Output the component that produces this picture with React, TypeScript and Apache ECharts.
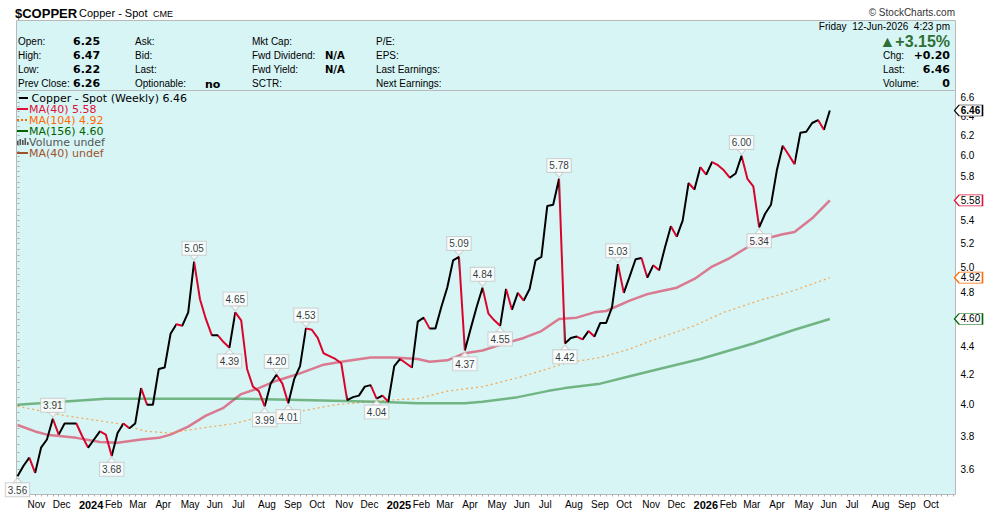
import { useEffect, useRef } from "react";
import * as echarts from "echarts";

// ---- time base: weekly bars (Friday closes); x is measured in weeks ----
const DAY = 86400000;
const WEEK = 7 * DAY;
const FIRST_FRIDAY = Date.UTC(2023, 9, 20);
const weeksSinceStart = (t: number) => (t - FIRST_FRIDAY) / WEEK;
const dateOfWeek = (w: number) => new Date(FIRST_FRIDAY + w * WEEK);
const X_MIN = -0.17;
const X_MAX = 159.35;

// ---- Copper - Spot, weekly closes ----
const weeklyClose = [
  3.56, 3.62, 3.67, 3.58, 3.73, 3.78, 3.91, 3.81, 3.88, 3.88,
  3.88, 3.8, 3.73, 3.78, 3.83, 3.81, 3.68, 3.82, 3.88, 3.85,
  3.88, 4.11, 4.0, 4.0, 4.24, 4.25, 4.49, 4.56, 4.55, 4.65,
  5.05, 4.75, 4.6, 4.48, 4.48, 4.43, 4.39, 4.65, 4.59, 4.24,
  4.12, 4.09, 3.99, 4.14, 4.2, 4.14, 4.01, 4.17, 4.26, 4.53,
  4.52, 4.46, 4.35, 4.33, 4.31, 4.28, 4.03, 4.05, 4.06, 4.12,
  4.13, 4.04, 4.06, 4.02, 4.26, 4.31, 4.28, 4.25, 4.58, 4.61,
  4.53, 4.53, 4.69, 4.84, 5.06, 5.09, 4.37, 4.53, 4.69, 4.84,
  4.64, 4.59, 4.55, 4.83, 4.67, 4.8, 4.74, 4.83, 5.06, 5.09,
  5.53, 5.54, 5.78, 4.42, 4.46, 4.47, 4.45, 4.51, 4.47, 4.57,
  4.57, 4.69, 5.03, 4.8, 4.93, 5.07, 5.08, 4.92, 5.02, 4.98,
  5.17, 5.35, 5.26, 5.4, 5.74, 5.68, 5.89, 5.82, 5.94, 5.91,
  5.86, 5.79, 5.83, 6.0, 5.78, 5.71, 5.34, 5.46, 5.54, 5.86,
  6.1, 6.01, 5.92, 6.23, 6.24, 6.33, 6.36, 6.26, 6.46,
];

// ---- moving averages: [week index, value] ----
const ma40: [number, number][] = [
  [0, 3.87], [3, 3.83], [5, 3.81], [10, 3.79], [14, 3.765], [17, 3.76], [21, 3.78],
  [24, 3.79], [26, 3.81], [29, 3.86], [32, 3.93], [35, 3.98], [38, 4.07], [41, 4.11],
  [44, 4.16], [48, 4.21], [52, 4.27], [55, 4.29], [60, 4.32], [64, 4.32], [68, 4.31],
  [70, 4.29], [73, 4.3], [76, 4.35], [79, 4.37], [82, 4.41], [86, 4.46], [89, 4.51],
  [92, 4.6], [95, 4.61], [98, 4.65], [100, 4.66], [104, 4.74], [107, 4.79], [109, 4.81],
  [112, 4.84], [115, 4.91], [118, 5.01], [121, 5.08], [124, 5.17], [126, 5.23],
  [130, 5.28], [132, 5.3], [135, 5.42], [138, 5.58],
];
const ma104: [number, number][] = [
  [0, 3.99], [8, 3.93], [17, 3.88], [22, 3.83], [26, 3.82], [31, 3.85], [37, 3.88],
  [40, 3.91], [47, 3.95], [54, 4.0], [63, 4.03], [68, 4.04], [73, 4.09], [79, 4.12],
  [85, 4.18], [90, 4.24], [93, 4.28], [99, 4.32], [104, 4.38], [107, 4.43], [115, 4.55],
  [120, 4.65], [126, 4.74], [132, 4.82], [138, 4.92],
];
const ma156: [number, number][] = [
  [0, 4.0], [15, 4.04], [33, 4.04], [38, 4.04], [50, 4.03], [61, 4.02], [68, 4.01],
  [76, 4.01], [79, 4.02], [85, 4.05], [90, 4.09], [93, 4.11], [99, 4.14], [104, 4.19],
  [109, 4.24], [116, 4.31], [125, 4.42], [132, 4.52], [138, 4.6],
];

// swing highs / lows carrying a value tag
const peakWeeks = [6, 30, 37, 44, 49, 75, 79, 92, 102, 123];
const troughWeeks = [0, 16, 36, 42, 46, 61, 76, 82, 93, 126];

// axis labels (4.6 and 5.6 sit under the MA value tags)
const priceTicks = [3.6, 3.8, 4.0, 4.2, 4.4, 4.8, 5.0, 5.2, 5.4, 5.8, 6.0, 6.2, 6.4, 6.6];
const monthNames = ["Jan", "Feb", "Mar", "Apr", "May", "Jun", "Jul", "Aug", "Sep", "Oct", "Nov", "Dec"];

// quote panel
const quoteLeft: [string, string][] = [
  ["Open:", "6.25"],
  ["High:", "6.47"],
  ["Low:", "6.22"],
  ["Prev Close:", "6.26"],
];
const quoteStamp = "Friday  12-Jun-2026  4:23 pm";
const quoteChangePct = "+3.15%";
const quoteChange = "+0.20";
const quoteLast = "6.46";
const quoteVolume = "0";

// ---- styling ----
const PANEL_BG = "#d7f5f5";
const PANEL_BORDER = "#b9b9b9";
const UP_COLOR = "#000000";
const DOWN_COLOR = "#d9042b";
const MA40_COLOR = "#dc143c";
const MA104_COLOR = "#ff8c1a";
const MA156_COLOR = "#2e8b3a";
const SANS = '"Liberation Sans", Arial, sans-serif';
const WIDE = '"DejaVu Sans", Verdana, sans-serif';

function buildOption(): any {
  const last = weeklyClose.length - 1;
  const priceData = weeklyClose.map((v, i) => [i, v]);

  const pieces = weeklyClose.slice(0, -1).map((v, i) => {
    const piece: any = {
      lte: i + 1,
      color: weeklyClose[i + 1] < v ? DOWN_COLOR : UP_COLOR,
    };
    if (i === 0) piece.gte = i;
    else piece.gt = i;
    return piece;
  });

  const monthStarts: number[] = [];
  for (let k = 0; k < 36; k++) monthStarts.push(weeksSinceStart(Date.UTC(2023, 10 + k, 1)));
  const weekTicks: number[] = [];
  for (let i = 0; i < 160; i++) weekTicks.push(i);
  const priceMinorTicks: number[] = [];
  for (let v = 3.5; v <= 6.65; v += 0.05) priceMinorTicks.push(Math.round(v * 100) / 100);

  const valueTag = (value: number, border: string, bold: boolean) => ({
    silent: true,
    symbol: "path://M0,5L5,0L30,0L30,10L5,10Z",
    symbolSize: [28, 11],
    symbolOffset: [13, 0],
    itemStyle: { color: "#ffffff", borderColor: border, borderWidth: 1 },
    label: {
      show: true,
      position: "inside",
      offset: [2, 0],
      formatter: () => value.toFixed(2),
      fontFamily: SANS,
      fontSize: 10,
      fontWeight: bold ? "bold" : "normal",
      color: "#000",
    },
    data: [{ coord: [X_MAX, value], value }],
  });

  const swingLabel = {
    show: true,
    formatter: (p: any) => p.value[1].toFixed(2),
    fontFamily: SANS,
    fontSize: 10,
    color: "#000",
    backgroundColor: "#ffffff",
    borderColor: "#c8c8c8",
    borderWidth: 1,
    padding: [2, 2, 1, 2],
    distance: 0,
  };

  // ---- quote header & legend as graphics ----
  const g: any[] = [];
  const txt = (x: number, y: number, text: string, o: any = {}) =>
    g.push({
      type: "text",
      x,
      y,
      z: 100,
      silent: true,
      style: {
        text,
        fontFamily: o.family || SANS,
        fontSize: o.size || 10,
        fontWeight: o.weight || "normal",
        fill: o.color || "#000",
        align: o.align || "left",
        verticalAlign: "middle",
        lineHeight: o.lineHeight,
      },
    });

  g.push({
    type: "rect",
    z: 1,
    silent: true,
    shape: { x: 16.5, y: 20.5, width: 939, height: 70 },
    style: { fill: PANEL_BG, stroke: PANEL_BORDER, lineWidth: 1 },
  });
  txt(15, 13, "$COPPER", { size: 13, weight: "bold" });
  txt(79, 13, "Copper - Spot", { size: 11 });
  txt(153, 13.5, "CME", { size: 9 });
  txt(955, 12, "\u00a9 StockCharts.com", { size: 10, color: "#333", align: "right" });

  const rowY = [41.5, 55.5, 69.5, 83.5];
  quoteLeft.forEach(([k, v], r) => {
    txt(18, rowY[r], k);
    txt(73, rowY[r], v, { family: WIDE, size: 11, weight: "bold" });
  });
  ["Ask:", "Bid:", "Last:", "Optionable:"].forEach((k, r) => txt(135, rowY[r], k));
  txt(205, rowY[3] + 1, "no", { family: WIDE, size: 11, weight: "bold" });
  ["Mkt Cap:", "Fwd Dividend:", "Fwd Yield:", "SCTR:"].forEach((k, r) => txt(252, rowY[r], k));
  txt(325, rowY[1], "N/A", { family: WIDE, size: 10, weight: "bold" });
  txt(325, rowY[2], "N/A", { family: WIDE, size: 10, weight: "bold" });
  ["P/E:", "EPS:", "Last Earnings:", "Next Earnings:"].forEach((k, r) => txt(376, rowY[r], k));

  txt(950, 26, quoteStamp, { align: "right" });
  txt(950, 41, "\u25B2" + quoteChangePct, { size: 16, weight: "bold", color: "#2f6f35", align: "right" });
  txt(883, 55.5, "Chg:");
  txt(950, 55.5, quoteChange, { family: WIDE, size: 11, weight: "bold", align: "right" });
  txt(883, 69.5, "Last:");
  txt(950, 69.5, quoteLast, { family: WIDE, size: 11, weight: "bold", align: "right" });
  txt(883, 83.5, "Volume:");
  txt(950, 83.5, quoteVolume, { family: WIDE, size: 11, weight: "bold", align: "right" });

  // legend
  const legendY = [98, 109, 120, 131, 142, 153];
  const legendRows = [
    { text: `Copper - Spot (Weekly) ${weeklyClose[last].toFixed(2)}`, color: "#000", line: "#000", dash: false, x: 31.5, lx: 19 },
    { text: `MA(40) ${ma40[ma40.length - 1][1].toFixed(2)}`, color: "#e0103a", line: "#e0103a", dash: false, x: 29, lx: 17 },
    { text: `MA(104) ${ma104[ma104.length - 1][1].toFixed(2)}`, color: "#ff6a00", line: "#ff6a00", dash: true, x: 29, lx: 17 },
    { text: `MA(156) ${ma156[ma156.length - 1][1].toFixed(2)}`, color: "#006400", line: "#006400", dash: false, x: 29, lx: 17 },
    { text: "Volume undef", color: "#555", line: "", dash: false, x: 29, lx: 17 },
    { text: "MA(40) undef", color: "#a0522d", line: "#a0522d", dash: false, x: 29, lx: 17 },
  ];
  legendRows.forEach((row, r) => {
    const y = legendY[r];
    if (row.line) {
      g.push({
        type: "line",
        z: 100,
        silent: true,
        shape: { x1: row.lx, y1: y, x2: 28, y2: y },
        style: { stroke: row.line, lineWidth: 2, lineDash: row.dash ? [2, 2] : null },
      });
    } else {
      [[17, 4], [19.5, 6], [22, 5], [24.5, 7], [27, 3]].forEach(([bx, bh]) =>
        g.push({
          type: "rect",
          z: 100,
          silent: true,
          shape: { x: bx, y: y + 3 - bh, width: 1.6, height: bh },
          style: { fill: "#555" },
        })
      );
    }
    txt(row.x, y, row.text, { family: WIDE, size: 11, color: row.color, lineHeight: 10 });
  });

  return {
    animation: false,
    backgroundColor: "#ffffff",
    grid: {
      left: 16.5,
      top: 90.5,
      width: 939,
      height: 404,
      show: true,
      backgroundColor: PANEL_BG,
      borderColor: PANEL_BORDER,
      borderWidth: 1,
    },
    xAxis: {
      type: "value",
      min: X_MIN,
      max: X_MAX,
      axisLine: { show: false },
      splitLine: { show: false },
      axisTick: {
        show: true,
        customValues: weekTicks,
        length: 2,
        lineStyle: { color: "#a8a8a8", width: 1 },
      },
      axisLabel: {
        customValues: monthStarts,
        align: "left",
        margin: 5,
        fontFamily: SANS,
        fontSize: 10,
        color: "#000",
        formatter: (w: number) => {
          const d = dateOfWeek(w);
          const m = d.getUTCMonth();
          return m === 0 ? `{yr|${d.getUTCFullYear()}}` : monthNames[m];
        },
        rich: {
          yr: { fontFamily: SANS, fontSize: 11, fontWeight: "bold", color: "#000" },
        },
      },
    },
    yAxis: {
      type: "log",
      logBase: 10,
      position: "right",
      min: 3.456,
      max: 6.674,
      axisLine: { show: false },
      splitLine: { show: false },
      axisTick: {
        show: true,
        customValues: priceMinorTicks,
        length: 2,
        lineStyle: { color: "#a8a8a8" },
      },
      axisLabel: {
        customValues: priceTicks,
        margin: 5,
        fontFamily: SANS,
        fontSize: 10,
        color: "#000",
        formatter: (v: number) => v.toFixed(1),
      },
    },
    visualMap: {
      type: "piecewise",
      show: false,
      seriesIndex: 0,
      dimension: 0,
      pieces,
      outOfRange: { color: UP_COLOR },
    },
    graphic: g,
    series: [
      {
        name: "Copper - Spot (Weekly)",
        type: "line",
        data: priceData,
        showSymbol: false,
        symbol: "none",
        z: 4,
        lineStyle: { width: 2 },
        markPoint: valueTag(weeklyClose[last], "#000", true),
      },
      {
        name: "MA(40)",
        type: "line",
        data: ma40,
        showSymbol: false,
        symbol: "none",
        z: 3,
        lineStyle: { color: MA40_COLOR, width: 2.5, opacity: 0.55 },
        markPoint: valueTag(ma40[ma40.length - 1][1], MA40_COLOR, false),
      },
      {
        name: "MA(104)",
        type: "line",
        data: ma104,
        showSymbol: false,
        symbol: "none",
        z: 3,
        lineStyle: { color: MA104_COLOR, width: 1.2, type: [2, 3], opacity: 0.75 },
        markPoint: valueTag(ma104[ma104.length - 1][1], "#ff6a00", false),
      },
      {
        name: "MA(156)",
        type: "line",
        data: ma156,
        showSymbol: false,
        symbol: "none",
        z: 3,
        lineStyle: { color: MA156_COLOR, width: 2.5, opacity: 0.6 },
        markPoint: valueTag(ma156[ma156.length - 1][1], "#006400", false),
      },
      {
        name: "Swing highs",
        type: "scatter",
        z: 6,
        silent: true,
        data: peakWeeks.map((i) => [i, weeklyClose[i]]),
        symbol: "path://M0,0L10,0L5,6Z",
        symbolSize: [9, 5],
        symbolOffset: [0, -4],
        itemStyle: { color: "#ffffff", borderColor: "#c8c8c8", borderWidth: 1 },
        label: { ...swingLabel, position: "top" },
      },
      {
        name: "Swing lows",
        type: "scatter",
        z: 6,
        silent: true,
        data: troughWeeks.map((i) => [i, weeklyClose[i]]),
        symbol: "path://M5,0L10,6L0,6Z",
        symbolSize: [9, 5],
        symbolOffset: [0, 4],
        itemStyle: { color: "#ffffff", borderColor: "#c8c8c8", borderWidth: 1 },
        label: { ...swingLabel, position: "bottom" },
      },
    ],
  };
}

export default function App() {
  const ref = useRef<HTMLDivElement>(null);
  useEffect(() => {
    if (!ref.current) return;
    const chart = echarts.init(ref.current, undefined, { renderer: "svg" });
    chart.setOption(buildOption());
    return () => chart.dispose();
  }, []);
  return (
    <div
      ref={ref}
      style={{ position: "fixed", left: 0, top: 0, width: 990, height: 511, background: "#ffffff" }}
    />
  );
}
